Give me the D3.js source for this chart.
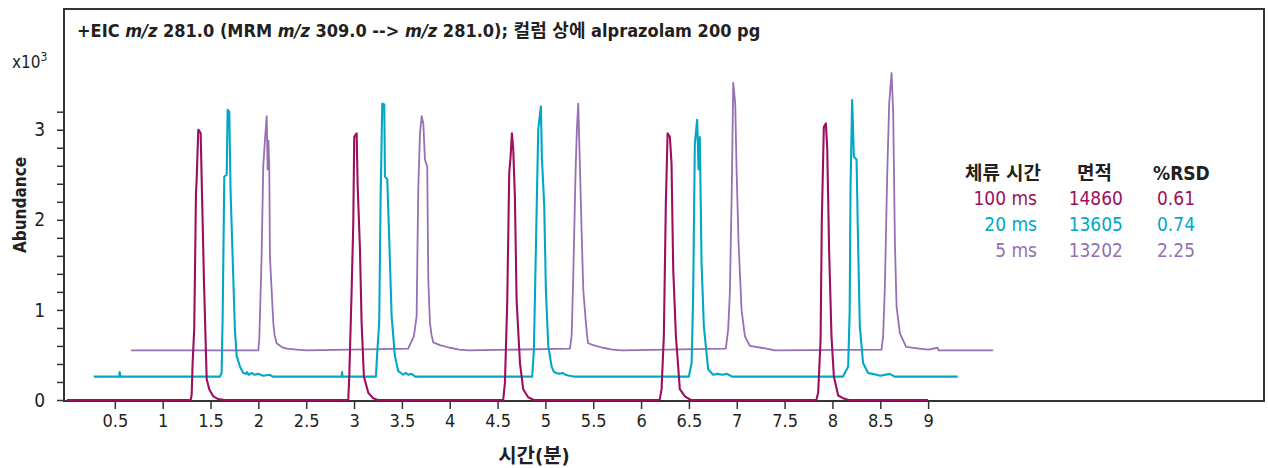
<!DOCTYPE html>
<html>
<head>
<meta charset="utf-8">
<script src="https://cdn.jsdelivr.net/npm/d3@7"></script>
<style>
  html, body { margin: 0; padding: 0; background: #fff; }
  svg { display: block; }
  text { font-family: "Liberation Sans Narrow", "DejaVu Sans Condensed", "Noto Sans CJK KR", sans-serif; fill: #231f20; }
</style>
</head>
<body>
<svg id="chart" width="1268" height="468"></svg>
<script>
// ---------- DATA ----------
const seriesNames = ["100 ms", "20 ms", "5 ms"];
const areas = ["14860", "13605", "13202"];
const rsd = ["0.61", "0.74", "2.25"];
const xTickValues = [0.5, 1, 1.5, 2, 2.5, 3, 3.5, 4, 4.5, 5, 5.5, 6, 6.5, 7, 7.5, 8, 8.5, 9];
const yTickValues = [0, 0.2, 0.4, 0.6, 0.8, 1, 1.2, 1.4, 1.6, 1.8, 2, 2.2, 2.4, 2.6, 2.8, 3, 3.2];
const yLabelValues = [0, 1, 2, 3];

// [time (min), abundance (x10^3)]
const trace100 = [
  [0, 0], [1.29, 0],
  [1.293, 0.0], [1.303, 0.06], [1.313, 0.41], [1.330, 0.80], [1.348, 2.30], [1.355, 2.44], [1.372, 3.0], [1.382, 2.99], [1.397, 2.96], [1.407, 2.48], [1.418, 1.96], [1.432, 1.30], [1.460, 0.23], [1.487, 0.12], [1.529, 0.04], [1.58, 0.01], [1.65, 0],
  [2.94, 0], [2.95, 0.26], [2.975, 1.22], [2.992, 1.96], [3.002, 2.92], [3.027, 2.96], [3.038, 2.37], [3.062, 1.67], [3.079, 0.86], [3.103, 0.26], [3.149, 0.08], [3.2, 0.02], [3.25, 0],
  [4.559, 0], [4.577, 0.19], [4.601, 1.08], [4.622, 2.52], [4.636, 2.70], [4.650, 2.96], [4.664, 2.78], [4.681, 2.26], [4.699, 1.11], [4.734, 0.41], [4.768, 0.12], [4.82, 0.03], [4.88, 0],
  [6.19, 0], [6.196, 0.01], [6.214, 0.12], [6.238, 0.71], [6.259, 2.19], [6.277, 2.96], [6.301, 2.92], [6.318, 2.63], [6.336, 1.45], [6.364, 0.71], [6.405, 0.12], [6.458, 0.04], [6.52, 0],
  [7.83, 0], [7.834, 0.01], [7.851, 0.08], [7.876, 0.67], [7.889, 2.0], [7.910, 3.03], [7.931, 3.07], [7.945, 2.81], [7.966, 1.63], [7.990, 0.71], [8.015, 0.26], [8.06, 0.05], [8.11, 0.02], [8.17, 0],
  [9.0, 0]
];

const trace20 = [
  [0.28, 0.26], [0.545, 0.26], [0.55, 0.31], [0.56, 0.26], [1.599, 0.26],
  [1.616, 0.30], [1.627, 0.93], [1.644, 2.48], [1.669, 2.50], [1.679, 3.22], [1.696, 3.20], [1.710, 2.30], [1.731, 1.59], [1.755, 0.78], [1.773, 0.49], [1.808, 0.37], [1.842, 0.30], [1.87, 0.29], [1.88, 0.31], [1.9, 0.28], [1.93, 0.30], [1.96, 0.28], [2.0, 0.29], [2.05, 0.27], [2.12, 0.28], [2.15, 0.26],
  [2.87, 0.26], [2.875, 0.31], [2.88, 0.26],
  [3.229, 0.26], [3.242, 0.52], [3.263, 0.86], [3.278, 2.26], [3.295, 3.29], [3.316, 3.28], [3.323, 2.48], [3.347, 2.45], [3.368, 1.78], [3.393, 0.93], [3.427, 0.49], [3.462, 0.32], [3.49, 0.30], [3.514, 0.28], [3.54, 0.30], [3.57, 0.28], [3.6, 0.29], [3.64, 0.26],
  [4.862, 0.26], [4.88, 0.56], [4.901, 1.71], [4.925, 3.0], [4.953, 3.26], [4.963, 2.70], [4.988, 2.15], [5.005, 1.22], [5.03, 0.60], [5.065, 0.37], [5.09, 0.31], [5.117, 0.30], [5.15, 0.29], [5.18, 0.30], [5.21, 0.28], [5.25, 0.27], [5.3, 0.26],
  [6.5, 0.26], [6.503, 0.28], [6.528, 0.41], [6.544, 1.15], [6.562, 2.85], [6.586, 3.11], [6.601, 2.56], [6.614, 2.92], [6.632, 1.52], [6.656, 0.82], [6.701, 0.34], [6.753, 0.28], [6.8, 0.29], [6.85, 0.28], [6.9, 0.29], [6.95, 0.26],
  [8.11, 0.26], [8.164, 0.37], [8.18, 0.97], [8.189, 2.37], [8.206, 3.33], [8.224, 2.70], [8.252, 2.67], [8.268, 1.74], [8.286, 0.82], [8.32, 0.41], [8.373, 0.30], [8.42, 0.29], [8.46, 0.28], [8.5, 0.27], [8.6, 0.29], [8.65, 0.26],
  [9.31, 0.26]
];

const trace5 = [
  [0.67, 0.55], [2.0, 0.55],
  [2.01, 0.69], [2.034, 1.59], [2.051, 2.59], [2.069, 2.89], [2.087, 3.15], [2.097, 2.56], [2.105, 2.88], [2.114, 2.59], [2.121, 1.59], [2.156, 0.86], [2.17, 0.72], [2.191, 0.63], [2.23, 0.60], [2.26, 0.58], [2.3, 0.57], [2.4, 0.56], [2.5, 0.55],
  [3.566, 0.57], [3.626, 0.71], [3.654, 0.93], [3.671, 2.33], [3.689, 2.96], [3.707, 3.15], [3.724, 3.07], [3.741, 2.67], [3.765, 2.59], [3.776, 1.34], [3.793, 0.86], [3.81, 0.72], [3.828, 0.64], [3.898, 0.61], [4.0, 0.58], [4.1, 0.56], [4.2, 0.55],
  [5.256, 0.57], [5.274, 0.71], [5.291, 1.37], [5.316, 2.56], [5.329, 3.0], [5.343, 3.29], [5.361, 2.59], [5.378, 1.89], [5.396, 1.22], [5.423, 0.86], [5.435, 0.72], [5.447, 0.63], [5.5, 0.61], [5.6, 0.58], [5.7, 0.56], [5.8, 0.55],
  [6.886, 0.57], [6.91, 0.78], [6.928, 1.19], [6.949, 2.41], [6.963, 3.52], [6.984, 3.29], [6.998, 2.56], [7.019, 1.74], [7.05, 1.0], [7.085, 0.71], [7.137, 0.6], [7.31, 0.57], [7.4, 0.55],
  [8.513, 0.56], [8.53, 0.71], [8.548, 1.26], [8.572, 2.48], [8.593, 3.29], [8.618, 3.63], [8.635, 3.18], [8.653, 1.74], [8.670, 1.04], [8.705, 0.74], [8.77, 0.59], [8.91, 0.57], [9.0, 0.56], [9.1, 0.58], [9.11, 0.55], [9.3, 0.55],
  [9.68, 0.55]
];

const colors = ["#9c0f5f", "#00a8c6", "#9570b4"];
const traces = [trace100, trace20, trace5];

// ---------- CHART ----------
const svg = d3.select("#chart");
const frame = { left: 64, top: 9, right: 1264, bottom: 401 };

const x = d3.scaleLinear().domain([0, 12.5]).range([67, 1263]);
const y = d3.scaleLinear().domain([0, 4.34]).range([frame.bottom - 1, frame.top]);

// frame
svg.append("rect")
  .attr("x", frame.left).attr("y", frame.top)
  .attr("width", frame.right - frame.left).attr("height", frame.bottom - frame.top)
  .attr("fill", "none").attr("stroke", "#333").attr("stroke-width", 2);

// x axis
const xAxis = svg.append("g")
  .attr("transform", `translate(0,${frame.bottom})`)
  .call(d3.axisBottom(x).tickValues(xTickValues).tickSize(8).tickSizeOuter(0).tickFormat(d => String(d)));
xAxis.select(".domain").remove();
xAxis.selectAll(".tick line").attr("stroke", "#333").attr("stroke-width", 1.5);
xAxis.selectAll(".tick text").attr("font-size", 18).attr("dy", "0.9em").attr("y", 10)
  .style("font-family", '"Liberation Sans Narrow", "DejaVu Sans Condensed", sans-serif').attr("fill", "#231f20");

// y axis
const yAxis = svg.append("g")
  .attr("transform", `translate(${frame.left},0)`)
  .call(d3.axisLeft(y).tickValues(yTickValues).tickSize(7).tickSizeOuter(0)
    .tickFormat(d => yLabelValues.some(v => Math.abs(v - d) < 1e-6) ? String(Math.round(d)) : ""));
yAxis.select(".domain").remove();
yAxis.selectAll(".tick line").attr("stroke", "#333").attr("stroke-width", 1.5);
yAxis.selectAll(".tick text").attr("font-size", 19).attr("x", -19)
  .style("font-family", '"Liberation Sans Narrow", "DejaVu Sans Condensed", sans-serif').attr("fill", "#231f20");

// traces (drawn on top of the frame; purple first, magenta last)
const line = d3.line().x(d => x(d[0])).y(d => y(d[1]));
[2, 1, 0].forEach(i => {
  svg.append("path")
    .datum(traces[i])
    .attr("d", line)
    .attr("fill", "none")
    .attr("stroke", colors[i])
    .attr("stroke-width", i === 2 ? 1.8 : 2.1)
    .attr("stroke-linejoin", "round");
});

// x10^3
const mult = svg.append("text").attr("x", 12).attr("y", 68).attr("font-size", 17);
mult.append("tspan").text("x10");
mult.append("tspan").attr("dy", -7).attr("font-size", 12).text("3");

// Axis titles
svg.append("text").attr("x", 534).attr("y", 463).attr("text-anchor", "middle")
  .attr("font-size", 20).attr("font-weight", "bold").text("시간(분)");
svg.append("text").attr("transform", "translate(26,205) rotate(-90)").attr("text-anchor", "middle")
  .attr("font-size", 17).attr("font-weight", "bold").text("Abundance");

// Title
const title = svg.append("text").attr("x", 77).attr("y", 37).attr("font-size", 18).attr("font-weight", "bold");
title.append("tspan").text("+EIC ");
title.append("tspan").attr("font-style", "italic").text("m/z");
title.append("tspan").text(" 281.0 (MRM ");
title.append("tspan").attr("font-style", "italic").text("m/z");
title.append("tspan").text(" 309.0 -->  ");
title.append("tspan").attr("font-style", "italic").text("m/z");
title.append("tspan").text(" 281.0);  컬럼 상에 alprazolam 200 pg");

// Legend table
const headers = [["체류 시간", 965], ["면적", 1077], ["%RSD", 1153]];
headers.forEach(h => {
  svg.append("text").attr("x", h[1]).attr("y", 180)
    .attr("font-size", 19).attr("font-weight", "bold").text(h[0]);
});
const rowY = [205, 231, 257];
seriesNames.forEach((n, i) => {
  const g = svg.append("g").attr("font-size", 19);
  g.append("text").attr("x", 1037).attr("y", rowY[i]).attr("text-anchor", "end").style("fill", colors[i]).text(n);
  g.append("text").attr("x", 1123).attr("y", rowY[i]).attr("text-anchor", "end").style("fill", colors[i]).text(areas[i]);
  g.append("text").attr("x", 1195).attr("y", rowY[i]).attr("text-anchor", "end").style("fill", colors[i]).text(rsd[i]);
});
</script>
</body>
</html>
